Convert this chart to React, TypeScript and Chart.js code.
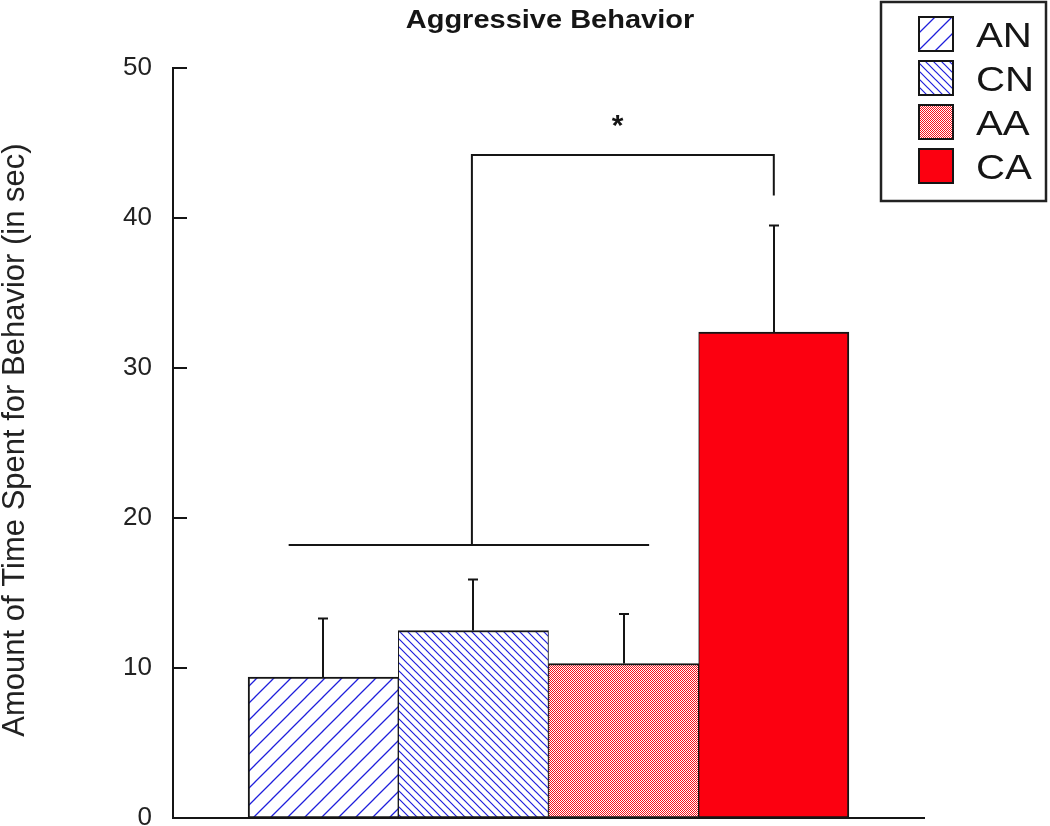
import React, { useEffect, useRef } from "react";
import { Chart, registerables } from "chart.js";

Chart.register(...registerables);

// ---------- data ----------
const categories = ["AN", "CN", "AA", "CA"];
const means = [9.4, 12.5, 10.3, 32.4];
const sems = [3.9, 3.4, 3.3, 7.1];
const yTicks = [0, 10, 20, 30, 40, 50];
const chartTitle = "Aggressive Behavior";
const yAxisTitle = "Amount of Time Spent for Behavior (in sec)";
// significance bracket (in data units)
const groupLineY = 18.2;
const groupLineX = [0.77, 3.17];
const bracketTopY = 44.2;
const bracketX = [1.99, 4];
const bracketRightEndY = 41.5;
const starPos = [2.96, 46.7];

const FONT = "'Liberation Sans', Arial, Helvetica, sans-serif";
const BLUE = "#1f1fdc";
const RED = "#fc0010";
const INK = "#151515";

function makePattern(kind: string): CanvasPattern | string {
  const c = document.createElement("canvas");
  const g = c.getContext("2d")!;
  if (kind === "fwd") {
    const s = 17;
    c.width = s;
    c.height = s;
    g.fillStyle = "#fff";
    g.fillRect(0, 0, s, s);
    g.strokeStyle = BLUE;
    g.lineWidth = 1.3;
    g.beginPath();
    for (const o of [-s, 0, s]) {
      g.moveTo(o - 1, s + 1);
      g.lineTo(o + s + 1, -1);
    }
    g.stroke();
  } else if (kind === "back") {
    const s = 8;
    c.width = s;
    c.height = s;
    g.fillStyle = "#fff";
    g.fillRect(0, 0, s, s);
    g.strokeStyle = BLUE;
    g.lineWidth = 1.2;
    g.beginPath();
    for (const o of [-s, 0, s]) {
      g.moveTo(o - 1, -1);
      g.lineTo(o + s + 1, s + 1);
    }
    g.stroke();
  } else if (kind === "check") {
    c.width = 2;
    c.height = 2;
    g.fillStyle = "#fff";
    g.fillRect(0, 0, 2, 2);
    g.fillStyle = "#f8101a";
    g.fillRect(0, 0, 1, 1);
    g.fillRect(1, 1, 1, 1);
  } else {
    return RED;
  }
  return g.createPattern(c, "repeat")!;
}

const decorPlugin = {
  id: "decor",
  afterDraw(chart: any) {
    const ctx: CanvasRenderingContext2D = chart.ctx;
    const xs = chart.scales.x;
    const ys = chart.scales.y;
    const area = chart.chartArea;
    const fills: any[] = chart.data.datasets[0].backgroundColor;
    ctx.save();
    ctx.strokeStyle = INK;
    ctx.fillStyle = INK;
    ctx.lineCap = "butt";

    // inward y ticks
    ctx.lineWidth = 2;
    ctx.beginPath();
    yTicks.forEach((v) => {
      if (v === 0) return;
      const y = Math.round(ys.getPixelForValue(v));
      ctx.moveTo(area.left, y);
      ctx.lineTo(area.left + 14, y);
    });
    ctx.stroke();

    // error bars (upper only)
    ctx.lineWidth = 2;
    means.forEach((m, i) => {
      const x = Math.round(xs.getPixelForValue(i + 1));
      const y0 = ys.getPixelForValue(m);
      const y1 = ys.getPixelForValue(m + sems[i]);
      ctx.beginPath();
      ctx.moveTo(x, y0);
      ctx.lineTo(x, y1);
      ctx.moveTo(x - 5, y1);
      ctx.lineTo(x + 5, y1);
      ctx.stroke();
    });

    // significance bracket
    ctx.lineWidth = 2;
    ctx.beginPath();
    ctx.moveTo(xs.getPixelForValue(groupLineX[0]), ys.getPixelForValue(groupLineY));
    ctx.lineTo(xs.getPixelForValue(groupLineX[1]), ys.getPixelForValue(groupLineY));
    ctx.moveTo(xs.getPixelForValue(bracketX[0]), ys.getPixelForValue(groupLineY));
    ctx.lineTo(xs.getPixelForValue(bracketX[0]), ys.getPixelForValue(bracketTopY));
    ctx.lineTo(xs.getPixelForValue(bracketX[1]), ys.getPixelForValue(bracketTopY));
    ctx.lineTo(xs.getPixelForValue(bracketX[1]), ys.getPixelForValue(bracketRightEndY));
    ctx.stroke();

    // asterisk
    ctx.font = `bold 30px ${FONT}`;
    ctx.textAlign = "center";
    ctx.textBaseline = "alphabetic";
    ctx.fillText("*", xs.getPixelForValue(starPos[0]), ys.getPixelForValue(starPos[1]) + 17);

    // title
    ctx.save();
    ctx.translate(550, 28);
    ctx.scale(1.16, 1);
    ctx.font = `bold 25px ${FONT}`;
    ctx.textAlign = "center";
    ctx.fillText(chartTitle, 0, 0);
    ctx.restore();

    // y axis title
    ctx.save();
    ctx.translate(24, 440);
    ctx.rotate(-Math.PI / 2);
    ctx.font = `31px ${FONT}`;
    ctx.textAlign = "center";
    ctx.fillStyle = "#222";
    ctx.fillText(yAxisTitle, 0, 0);
    ctx.restore();

    // legend
    ctx.lineWidth = 2.5;
    ctx.strokeStyle = "#222";
    ctx.strokeRect(881, 2, 165, 199);
    categories.forEach((lab, i) => {
      const top = 17 + i * 44;
      ctx.fillStyle = fills[i];
      ctx.fillRect(919, top, 34, 34);
      ctx.lineWidth = 2;
      ctx.strokeStyle = INK;
      ctx.strokeRect(919, top, 34, 34);
      ctx.save();
      ctx.translate(976, top + 30);
      ctx.scale(1.15, 1);
      ctx.fillStyle = INK;
      ctx.font = `35px ${FONT}`;
      ctx.textAlign = "left";
      ctx.fillText(lab, 0, 0);
      ctx.restore();
    });

    ctx.restore();
  },
};

export default function App() {
  const ref = useRef<HTMLCanvasElement | null>(null);

  useEffect(() => {
    if (!ref.current) return;
    const fills = [makePattern("fwd"), makePattern("back"), makePattern("check"), makePattern("solid")];
    const chart = new Chart(ref.current, {
      type: "bar",
      data: {
        datasets: [
          {
            label: "Aggressive Behavior",
            data: means.map((m, i) => ({ x: i + 1, y: m })),
            backgroundColor: fills as any,
            borderColor: INK,
            borderWidth: ((c: any) => ({
              top: 2,
              bottom: 2,
              left: c.dataIndex === 0 ? 2 : 1,
              right: c.dataIndex === categories.length - 1 ? 2 : 1,
            })) as any,
            borderSkipped: false,
            barPercentage: 1,
            categoryPercentage: 1,
          },
        ],
      },
      options: {
        responsive: false,
        maintainAspectRatio: false,
        animation: false,
        devicePixelRatio: 1,
        layout: { padding: { top: 68, right: 126, bottom: 0, left: 0 } },
        plugins: {
          legend: { display: false },
          title: { display: false },
          tooltip: { enabled: false },
        },
        scales: {
          x: {
            type: "linear",
            min: 0,
            max: categories.length + 1,
            offset: false,
            grid: { display: false, drawTicks: false },
            border: { display: true, color: INK, width: 2 },
            ticks: { display: false, stepSize: 1 },
            afterBuildTicks: (s: any) => {
              s.ticks = [0, ...categories.map((_, i) => i + 1), categories.length + 1].map((v) => ({ value: v }));
            },
            afterFit: (s: any) => {
              s.height = 40;
            },
          },
          y: {
            type: "linear",
            min: 0,
            max: 50,
            grid: { display: false, drawTicks: false },
            border: { display: true, color: INK, width: 2 },
            ticks: {
              padding: 21,
              color: "#222",
              font: { family: FONT, size: 26 },
            },
            afterBuildTicks: (s: any) => {
              s.ticks = yTicks.map((v) => ({ value: v }));
            },
            afterFit: (s: any) => {
              s.width = 173;
            },
          },
        },
      },
      plugins: [decorPlugin],
    });
    return () => chart.destroy();
  }, []);

  return (
    <div
      style={{
        position: "fixed",
        left: 0,
        top: 0,
        width: 1050,
        height: 826,
        overflow: "hidden",
        background: "#fff",
      }}
    >
      <canvas ref={ref} width={1050} height={858} style={{ display: "block", width: 1050, height: 858 }} />
    </div>
  );
}
